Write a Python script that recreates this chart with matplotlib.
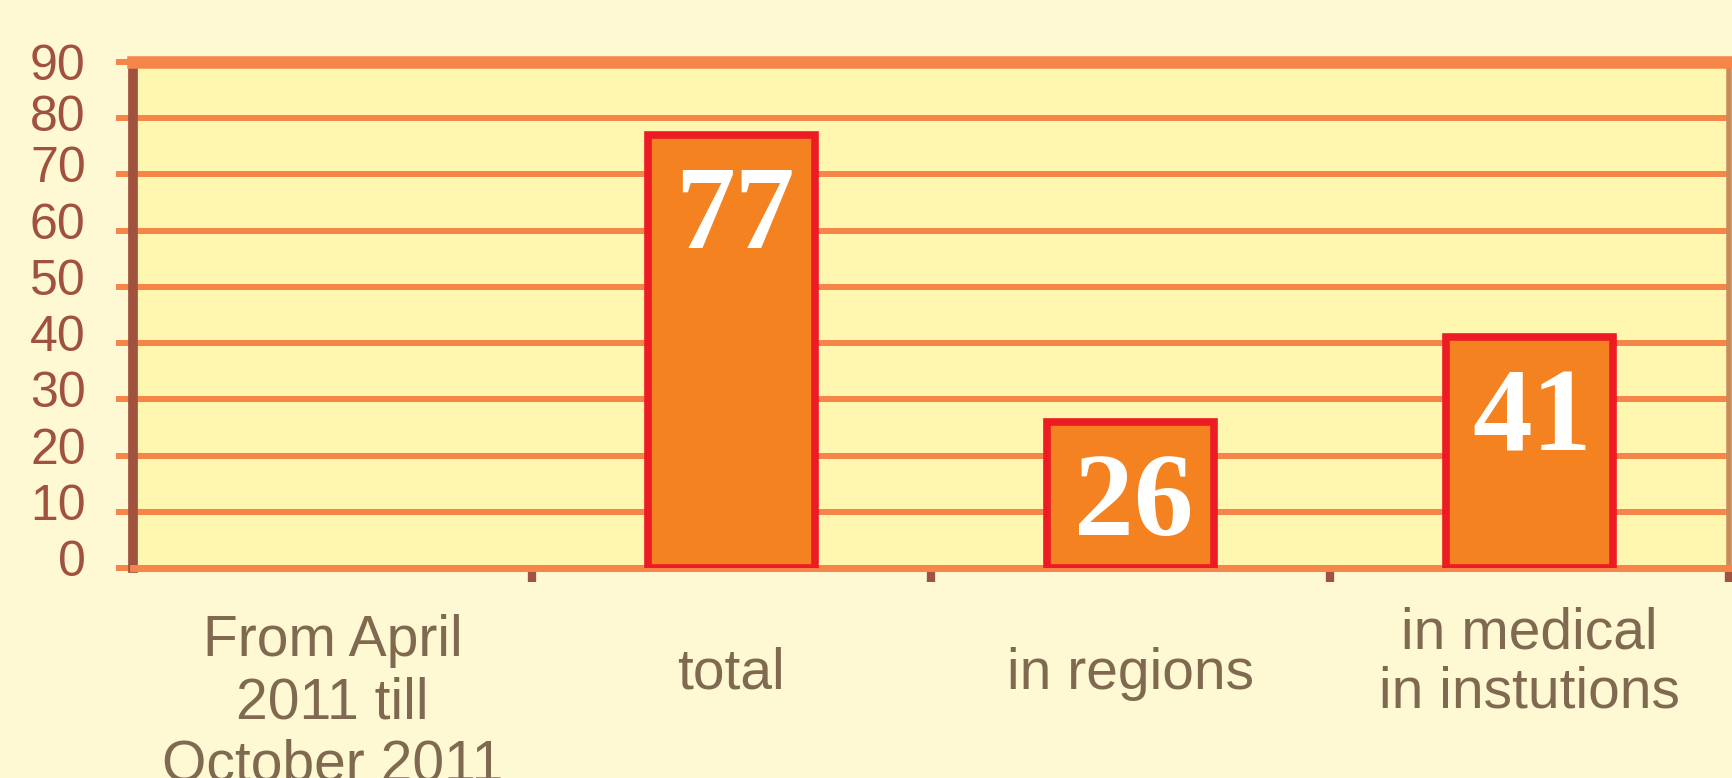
import matplotlib.pyplot as plt
import matplotlib.transforms as mtransforms

categories = ["From April\n2011 till\nOctober 2011", "total", "in regions",
              "in medical\nin instutions"]
values = [None, 77, 26, 41]
y_ticks = [0, 10, 20, 30, 40, 50, 60, 70, 80, 90]

fig_bg = "#FFF9D3"
ax_bg = "#FFF7AF"
grid_orange = "#F58549"
bar_fill = "#F58220"
bar_edge = "#ED1C24"
brown = "#A0523F"
label_col = "#7F6A51"

fig = plt.figure(figsize=(17.33, 7.78), dpi=100, facecolor=fig_bg)
ax = fig.add_axes([0.0767, 0.27, 0.921, 0.6503])
ax.set_facecolor(ax_bg)

xs = [i for i, v in enumerate(values) if v is not None]
hs = [v for v in values if v is not None]
ax.bar(xs, hs, width=0.42, color=bar_fill, edgecolor=bar_edge, linewidth=5.5, zorder=3)

for x, v in zip(xs, hs):
    ax.annotate(str(v), xy=(x, v), xytext=(3, -31), textcoords="offset pixels",
                ha="center", va="top", color="white", fontsize=86,
                fontweight="bold", family="Liberation Serif", zorder=4)

ax.set_xlim(-0.5, 3.5)
ax.set_ylim(0, 90)

# y axis: orange grid + stubs, brown labels
ax.set_yticks(y_ticks)
ax.set_yticklabels([str(t) for t in y_ticks], family="Liberation Sans",
                   fontsize=36, color=brown)
ax.tick_params(axis="y", direction="out", length=12, width=4.3,
               color=grid_orange, pad=22)
ax.yaxis.grid(True, color=grid_orange, linewidth=4.3, zorder=1)
ax.set_axisbelow(True)
# labels sit a little above their lines in the original
for lab in ax.get_yticklabels():
    t = lab.get_text()
    dy = 0 if t == "90" else (5 if t == "80" else 10)
    lab.set_transform(lab.get_transform() +
                      mtransforms.ScaledTranslation(0, dy / 100, fig.dpi_scale_trans))

# x axis: brown separator ticks, labels as text
ax.set_xticks([0.5, 1.5, 2.5, 3.5])
ax.set_xticklabels([])
ax.tick_params(axis="x", direction="out", length=10, width=6, color=brown)

for i, cat in enumerate(categories):
    n = cat.count("\n")
    if n >= 2:
        # long label runs off the bottom edge, as in the original
        ax.annotate(cat, xy=(i, 0), xycoords=("data", "axes fraction"),
                    xytext=(0, -46), textcoords="offset pixels", ha="center",
                    va="top", fontsize=41, color=label_col,
                    family="Liberation Sans", linespacing=1.2)
    else:
        ax.annotate(cat, xy=(i, 0), xycoords=("data", "axes fraction"),
                    xytext=(0, -95 if n else -106), textcoords="offset pixels",
                    ha="center", va="center", fontsize=41, color=label_col,
                    family="Liberation Sans", linespacing=1.1)

ax.spines["left"].set_color(brown)
ax.spines["left"].set_linewidth(7)
ax.spines["right"].set_color("#C98A5C")
ax.spines["right"].set_linewidth(4)
ax.spines["top"].set_color(grid_orange)
ax.spines["top"].set_linewidth(9)
ax.spines["bottom"].set_color(grid_orange)
ax.spines["bottom"].set_linewidth(5)

plt.savefig("out.png", facecolor=fig_bg)
